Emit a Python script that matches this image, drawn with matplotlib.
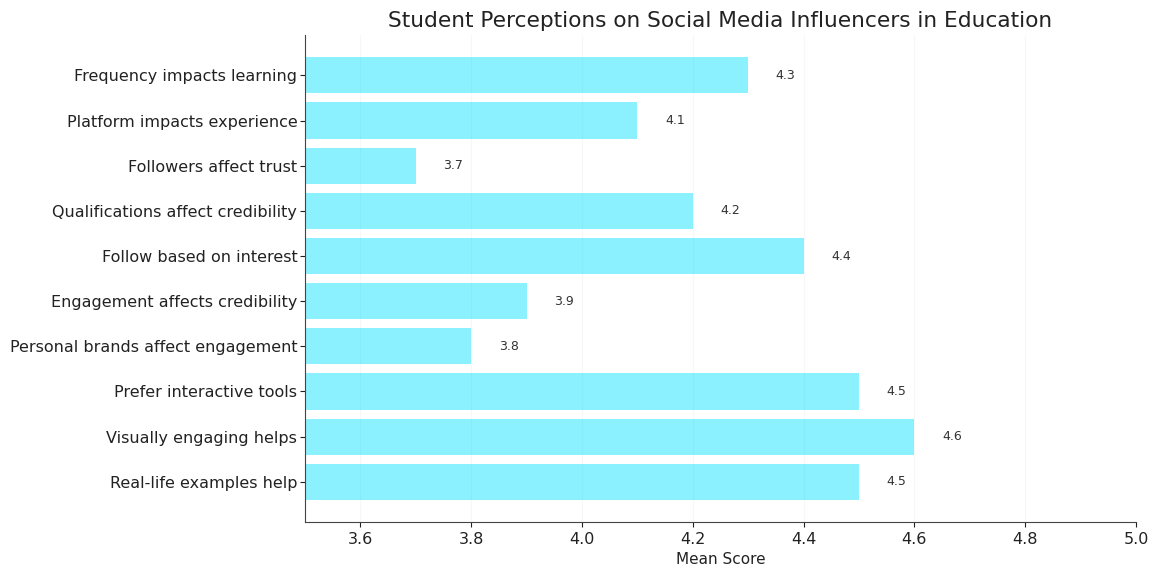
import matplotlib
matplotlib.use('Agg')
import matplotlib.pyplot as plt

# Survey items (bottom to top) and their mean scores
statements = [
    "Real-life examples help",
    "Visually engaging helps",
    "Prefer interactive tools",
    "Personal brands affect engagement",
    "Engagement affects credibility",
    "Follow based on interest",
    "Qualifications affect credibility",
    "Followers affect trust",
    "Platform impacts experience",
    "Frequency impacts learning",
]
mean_scores = [4.5, 4.6, 4.5, 3.8, 3.9, 4.4, 4.2, 3.7, 4.1, 4.3]
x_ticks = [3.6, 3.8, 4.0, 4.2, 4.4, 4.6, 4.8, 5.0]

fig = plt.figure(figsize=(11.55, 5.68), dpi=100)
ax = fig.add_axes([0.264, 0.081, 0.7195, 0.857])

ax.grid(axis='x', color='#f7f7f7', linewidth=0.8)
ax.set_axisbelow(True)
bars = ax.barh(statements, [v - 3.5 for v in mean_scores], left=3.5,
               color='#00e0ff', alpha=0.45, height=0.8)

for i, v in enumerate(mean_scores):
    ax.text(v + 0.05, i, f"{v}", va='center', ha='left', fontsize=9, color='#333333')

ax.set_xlim(3.5, 5.0)
ax.set_xticks(x_ticks)
ax.tick_params(labelsize=11.5, colors='#222222')
ax.tick_params(axis='y', pad=2)
ax.set_xlabel('Mean Score', fontsize=11, color='#222222')
ax.set_title('Student Perceptions on Social Media Influencers in Education',
             fontsize=15.6, color='#222222')
ax.spines['top'].set_visible(False)
ax.spines['right'].set_visible(False)
ax.spines['left'].set_color('#444444')
ax.spines['bottom'].set_color('#444444')

plt.savefig('out.png')
